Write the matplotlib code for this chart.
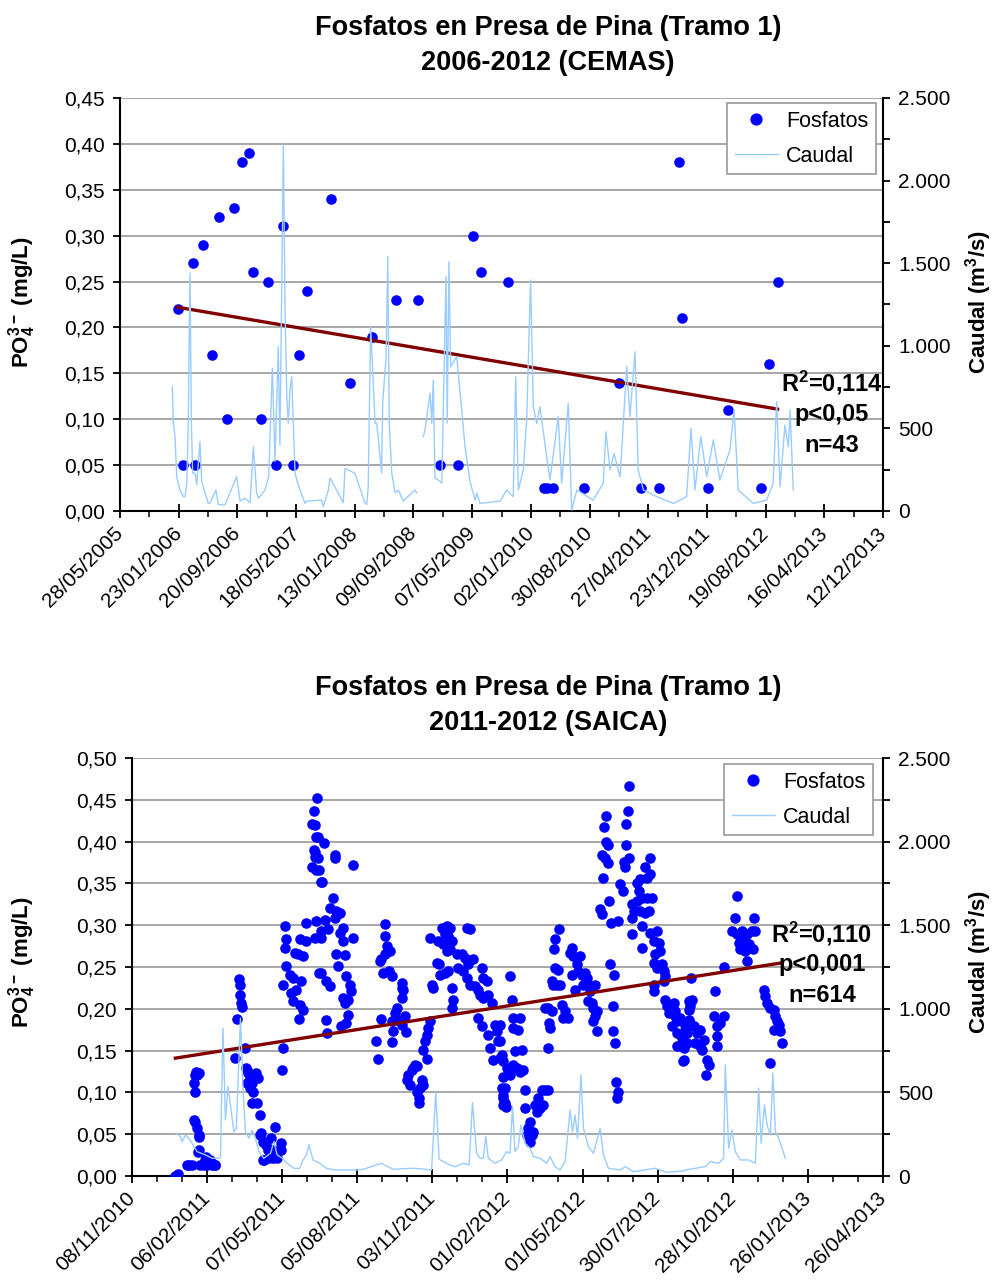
import numpy as np
import pandas as pd
import matplotlib
matplotlib.use("Agg")
import matplotlib.pyplot as plt
import matplotlib.dates as mdates
import matplotlib.transforms as mtransforms
from matplotlib.ticker import FuncFormatter, FixedLocator
from matplotlib.lines import Line2D

plt.rcParams['font.family'] = ['Liberation Sans', 'DejaVu Sans']
plt.rcParams['mathtext.fontset'] = 'custom'
plt.rcParams['mathtext.rm'] = 'Liberation Sans'
plt.rcParams['mathtext.bf'] = 'Liberation Sans:bold'
plt.rcParams['mathtext.default'] = 'bf'

# ---------------- CEMAS 2006-2012 (muestras puntuales) ----------------
fechas_cemas = ["2006-01-19", "2006-02-08", "2006-03-22", "2006-03-29", "2006-05-04",
                "2006-06-07", "2006-07-06", "2006-08-09", "2006-09-06", "2006-10-10",
                "2006-11-08", "2006-11-22", "2006-12-27", "2007-01-23", "2007-02-25",
                "2007-03-27", "2007-05-07", "2007-05-29", "2007-07-03", "2007-10-08",
                "2007-12-24", "2008-03-23", "2008-06-30", "2008-09-28", "2008-12-26",
                "2009-03-11", "2009-05-09", "2009-06-12", "2009-10-02", "2010-02-25",
                "2010-03-08", "2010-04-01", "2010-08-06", "2010-12-30", "2011-03-30",
                "2011-06-10", "2011-08-31", "2011-09-14", "2011-12-28", "2012-03-19",
                "2012-07-31", "2012-09-03", "2012-10-07"]
po4_cemas = [0.22, 0.05, 0.27, 0.05, 0.29,
             0.17, 0.32, 0.10, 0.33, 0.38,
             0.39, 0.26, 0.10, 0.25, 0.05,
             0.31, 0.05, 0.17, 0.24, 0.34,
             0.14, 0.19, 0.23, 0.23, 0.05,
             0.05, 0.30, 0.26, 0.25, 0.025,
             0.025, 0.025, 0.025, 0.14, 0.025,
             0.025, 0.38, 0.21, 0.025, 0.11,
             0.025, 0.16, 0.25]
# recta de tendencia (Excel) en la primera y la ultima fecha
tendencia_cemas = [0.222, 0.111]

# caudal diario (m3/s), dias desde el origen del eje
origen_cemas = "2005-05-28"
dia_caudal_cemas = [214, 218, 225, 232, 245, 259, 266, 273, 279, 286,
                    292, 297, 307, 314, 327, 334, 348, 361, 368, 392,
                    402, 422, 429, 477, 491, 511, 532, 545, 559, 566,
                    593, 608, 623, 634, 647, 654, 668, 675, 682, 688,
                    695, 702, 716, 723, 736, 757, 763, 825, 831, 852,
                    859, 913, 920, 961, 1002, 1009, 1015, 1025, 1043, 1050,
                    1070, 1074, 1088, 1095, 1101, 1111, 1125, 1138, 1158, 1206,
                    1213, 1226, 1240, 1247, 1268, 1275, 1281, 1288, 1309, 1316,
                    1333, 1338, 1345, 1352, 1377, 1411, 1431, 1452, 1459, 1472,
                    1499, 1554, 1581, 1608, 1618, 1629, 1649, 1663, 1679, 1690,
                    1704, 1717, 1745, 1758, 1792, 1806, 1833, 1847, 1868, 1935,
                    1976, 1987, 2004, 2020, 2045, 2072, 2085, 2106, 2119, 2140,
                    2195, 2263, 2317, 2335, 2351, 2375, 2399, 2426, 2453, 2494,
                    2511, 2528, 2590, 2644, 2671, 2685, 2699, 2719, 2733, 2740,
                    2753]
caudal_cemas = [752, 532, 450, 208, 127, 87, 87, 168, 510, 1440,
                532, 230, 228, 160, 420, 180, 109, 46, 48, 127,
                40, 36, 36, 208, 60, 77, 50, 389, 110, 77,
                127, 208, 864, 300, 995, 400, 2226, 1217, 692, 532,
                732, 813, 230, 188, 127, 46, 60, 66, 26, 127,
                200, 50, 258, 228, 46, 40, 147, 1116, 530, 532,
                230, 653, 934, 1540, 532, 230, 110, 127, 60, 127,
                110, np.nan, 450, 490, 714, 532, 793, 200, 180, 168,
                1418, 532, 1509, 873, 934, 389, 180, 66, 110, 46,
                50, 60, 127, 87, 813, 127, 248, 551, 1398, 631,
                530, 631, 329, 188, 571, 168, 652, 6, 127, 66,
                168, 480, 248, 349, 208, 873, 571, 964, 248, 127,
                87, 46, 87, 500, 127, 450, 208, 430, 188, 369,
                611, 127, 46, 66, 168, 662, 147, 520, 389, 611,
                127]

# ---------------- SAICA 2011-2012 (sonda en continuo) ----------------
origen_saica = "2010-11-08"
dia_saica = [52, 55, 66, 68, 72, 74, 75, 76, 77, 78,
             80, 74, 76, 78, 80, 80, 79, 80, 89, 82,
             86, 88, 90, 94, 96, 99, 100, 124, 126, 128,
             130, 130, 131, 132, 135, 137, 139, 143, 149, 151,
             138, 142, 148, 138, 142, 145, 144, 144, 150, 153,
             153, 157, 161, 165, 155, 159, 163, 169, 157, 171,
             179, 173, 169, 174, 178, 158, 164, 167, 180, 181,
             183, 185, 183, 208, 201, 209, 195, 199, 205, 185,
             189, 193, 203, 181, 191, 197, 193, 201, 205, 200,
             221, 219, 224, 222, 218, 216, 221, 218, 219, 216,
             221, 226, 219, 223, 230, 219, 223, 224, 228, 243,
             243, 265, 241, 237, 245, 249, 243, 231, 227, 235,
             226, 253, 249, 253, 265, 245, 255, 247, 226, 233,
             237, 257, 261, 263, 259, 255, 253, 259, 257, 250,
             233, 234, 303, 303, 305, 309, 303, 299, 297, 301,
             308, 312, 324, 325, 323, 324, 318, 315, 317, 327,
             312, 323, 328, 313, 298, 293, 312, 295, 357, 355,
             353, 351, 349, 353, 339, 335, 331, 329, 333, 347,
             349, 345, 341, 344, 344, 337, 341, 357, 359, 361,
             365, 368, 369, 371, 377, 381, 375, 379, 367, 373,
             383, 377, 381, 375, 379, 383, 385, 383, 389, 395,
             399, 403, 409, 419, 391, 397, 401, 405, 401, 405,
             411, 415, 421, 425, 417, 421, 427, 431, 415, 419,
             427, 429, 435, 437, 439, 433, 441, 445, 443, 445,
             445, 441, 441, 443, 445, 449, 453, 457, 461, 465,
             469, 447, 445, 447, 448, 459, 467, 457, 465, 457,
             463, 453, 455, 471, 471, 477, 475, 473, 479, 481,
             477, 483, 487, 491, 495, 499, 493, 489, 485, 498,
             500, 501, 499, 495, 503, 505, 503, 509, 513, 507,
             511, 506, 507, 512, 515, 519, 523, 517, 527, 525,
             529, 537, 527, 533, 535, 539, 543, 545, 531, 541,
             547, 555, 549, 547, 551, 553, 557, 555, 553, 557,
             573, 578, 576, 576, 579, 580, 582, 581, 561, 563,
             566, 568, 568, 570, 563, 567, 570, 564, 572, 574,
             583, 585, 588, 591, 590, 596, 592, 592, 594, 596,
             599, 599, 605, 601, 605, 609, 615, 617, 621, 621,
             607, 611, 617, 623, 599, 611, 609, 615, 619, 621,
             611, 629, 625, 631, 633, 627, 625, 629, 635, 637,
             639, 637, 625, 626, 639, 641, 645, 649, 651, 643,
             647, 653, 657, 663, 665, 653, 659, 661, 661, 667,
             667, 667, 651, 655, 653, 659, 663, 667, 673, 677,
             681, 685, 657, 665, 675, 681, 683, 660, 671, 669,
             670, 689, 691, 688, 697, 701, 705, 709, 701, 701,
             699, 709, 725, 723, 746, 719, 725, 731, 737, 743,
             747, 727, 733, 739, 744, 729, 735, 737, 757, 759,
             761, 765, 769, 771, 773, 775, 777, 769, 779, 764]
po4_saica = [0.000, 0.002, 0.013, 0.013, 0.013, 0.111, 0.121, 0.100, 0.125, 0.121,
             0.123, 0.067, 0.065, 0.057, 0.049, 0.047, 0.029, 0.031, 0.023, 0.013,
             0.013, 0.019, 0.013, 0.019, 0.013, 0.013, 0.013, 0.141, 0.188, 0.236,
             0.228, 0.216, 0.207, 0.202, 0.153, 0.129, 0.123, 0.119, 0.123, 0.117,
             0.127, 0.119, 0.119, 0.111, 0.105, 0.101, 0.111, 0.087, 0.087, 0.073,
             0.049, 0.041, 0.037, 0.031, 0.051, 0.041, 0.031, 0.031, 0.019, 0.059,
             0.039, 0.027, 0.021, 0.021, 0.031, 0.019, 0.021, 0.045, 0.127, 0.153,
             0.299, 0.283, 0.273, 0.303, 0.283, 0.281, 0.267, 0.265, 0.263, 0.251,
             0.241, 0.237, 0.233, 0.229, 0.219, 0.223, 0.209, 0.205, 0.199, 0.188,
             0.305, 0.285, 0.243, 0.452, 0.437, 0.421, 0.406, 0.390, 0.382, 0.370,
             0.366, 0.352, 0.420, 0.406, 0.398, 0.388, 0.380, 0.366, 0.352, 0.384,
             0.380, 0.372, 0.332, 0.321, 0.317, 0.315, 0.309, 0.306, 0.293, 0.295,
             0.285, 0.297, 0.291, 0.281, 0.285, 0.265, 0.264, 0.251, 0.243, 0.233,
             0.227, 0.239, 0.229, 0.221, 0.211, 0.207, 0.213, 0.193, 0.183, 0.179,
             0.187, 0.171, 0.301, 0.287, 0.275, 0.269, 0.265, 0.259, 0.257, 0.243,
             0.245, 0.239, 0.231, 0.223, 0.213, 0.225, 0.201, 0.195, 0.187, 0.191,
             0.185, 0.181, 0.172, 0.173, 0.188, 0.162, 0.160, 0.140, 0.185, 0.177,
             0.169, 0.161, 0.151, 0.140, 0.133, 0.127, 0.121, 0.115, 0.109, 0.115,
             0.109, 0.105, 0.101, 0.093, 0.087, 0.129, 0.131, 0.285, 0.229, 0.225,
             0.255, 0.253, 0.241, 0.297, 0.299, 0.297, 0.289, 0.287, 0.281, 0.277,
             0.281, 0.269, 0.271, 0.243, 0.245, 0.225, 0.211, 0.201, 0.265, 0.265,
             0.261, 0.253, 0.259, 0.249, 0.249, 0.245, 0.237, 0.229, 0.297, 0.295,
             0.227, 0.223, 0.237, 0.233, 0.217, 0.213, 0.217, 0.207, 0.189, 0.179,
             0.169, 0.153, 0.181, 0.173, 0.161, 0.139, 0.141, 0.119, 0.105, 0.093,
             0.085, 0.181, 0.161, 0.145, 0.137, 0.129, 0.121, 0.133, 0.129, 0.125,
             0.127, 0.105, 0.097, 0.087, 0.083, 0.149, 0.151, 0.177, 0.189, 0.189,
             0.175, 0.239, 0.211, 0.103, 0.081, 0.065, 0.057, 0.049, 0.049, 0.053,
             0.041, 0.085, 0.093, 0.103, 0.103, 0.103, 0.085, 0.081, 0.077, 0.153,
             0.183, 0.177, 0.201, 0.201, 0.197, 0.229, 0.233, 0.229, 0.229, 0.249,
             0.247, 0.271, 0.283, 0.295, 0.205, 0.197, 0.189, 0.189, 0.273, 0.267,
             0.263, 0.263, 0.241, 0.253, 0.245, 0.241, 0.243, 0.237, 0.223, 0.229,
             0.229, 0.229, 0.221, 0.209, 0.207, 0.201, 0.197, 0.191, 0.185, 0.173,
             0.253, 0.241, 0.203, 0.173, 0.159, 0.113, 0.101, 0.093, 0.319, 0.313,
             0.417, 0.431, 0.400, 0.396, 0.384, 0.380, 0.374, 0.356, 0.329, 0.303,
             0.305, 0.349, 0.341, 0.370, 0.376, 0.380, 0.396, 0.421, 0.437, 0.466,
             0.325, 0.309, 0.329, 0.317, 0.351, 0.355, 0.370, 0.357, 0.380, 0.361,
             0.341, 0.333, 0.333, 0.332, 0.289, 0.299, 0.317, 0.315, 0.317, 0.291,
             0.273, 0.293, 0.281, 0.279, 0.269, 0.265, 0.255, 0.249, 0.253, 0.245,
             0.239, 0.233, 0.229, 0.221, 0.211, 0.203, 0.199, 0.207, 0.197, 0.195,
             0.179, 0.185, 0.189, 0.181, 0.171, 0.155, 0.165, 0.153, 0.139, 0.209,
             0.199, 0.185, 0.191, 0.187, 0.171, 0.167, 0.175, 0.187, 0.179, 0.171,
             0.175, 0.163, 0.155, 0.159, 0.159, 0.155, 0.151, 0.137, 0.211, 0.203,
             0.237, 0.139, 0.133, 0.121, 0.191, 0.179, 0.183, 0.191, 0.167, 0.155,
             0.221, 0.250, 0.335, 0.309, 0.309, 0.293, 0.289, 0.293, 0.289, 0.293,
             0.293, 0.279, 0.281, 0.277, 0.271, 0.271, 0.269, 0.257, 0.222, 0.215,
             0.207, 0.201, 0.199, 0.191, 0.185, 0.181, 0.173, 0.175, 0.159, 0.135]
tendencia_saica = [0.141, 0.255]

dia_caudal_saica = [53, 56, 58, 60, 64, 68, 72, 78, 88, 96,
                    105, 106, 109, 112, 115, 118, 122, 125, 130, 133,
                    136, 140, 144, 148, 152, 158, 166, 170, 174, 180,
                    186, 194, 201, 205, 209, 212, 217, 225, 233, 243,
                    253, 269, 277, 299, 313, 333, 339, 359, 364, 368,
                    381, 387, 397, 404, 408, 413, 417, 421, 424, 427,
                    435, 443, 449, 453, 456, 459, 463, 466, 471, 477,
                    481, 489, 497, 501, 507, 513, 519, 525, 528, 531,
                    534, 538, 541, 547, 553, 561, 565, 571, 585, 591,
                    601, 627, 641, 661, 663, 687, 693, 703, 709, 711,
                    715, 719, 723, 729, 739, 747, 751, 754, 758, 761,
                    765, 768, 771, 775, 783]
caudal_saica = [255, 245, 235, 206, 245, 226, 196, 146, 126, 106,
                106, 116, 884, 335, 535, 425, 265, 285, 944, 525,
                265, 226, 275, 226, 146, 106, 136, 206, 126, 106,
                76, 46, 46, 96, 126, 186, 96, 76, 46, 36,
                36, 36, 40, 76, 40, 46, 46, 36, 500, 100,
                66, 56, 76, 66, 440, 136, 106, 106, 235, 106,
                76, 96, 146, 136, 415, 146, 176, 305, 196, 166,
                116, 106, 76, 116, 56, 36, 86, 395, 265, 365,
                226, 605, 285, 176, 136, 285, 126, 46, 36, 56,
                26, 46, 22, 30, 36, 56, 86, 76, 106, 665,
                166, 275, 146, 96, 96, 76, 525, 196, 425, 305,
                245, 615, 265, 226, 106]

stats_cemas = ["R$^2$=0,114", "p<0,05", "n=43"]
stats_saica = ["R$^2$=0,110", "p<0,001", "n=614"]

W, H = 992, 1280
AZUL = "#0000ff"
CELESTE = "#99ccff"
GRANATE = "#800000"
GRIS = "#a0a0a0"


def fx(x):
    return x / W


def fy(y):
    return 1 - y / H


def dias_a_num(origen, dias):
    return mdates.date2num(pd.Timestamp(origen)) + np.asarray(dias, dtype=float)


def draw_panel(fig, box, x_po4, po4, tendencia, x_q, q, ylim, ystep, xticks, xminor,
               titulo, stats, stats_x, stats_y, leg_xy, lab_y):
    left, top, right, bottom = box
    ax = fig.add_axes([fx(left), fy(bottom), fx(right - left), (bottom - top) / H])
    ax2 = ax.twinx()

    # fosfatos + recta de tendencia
    ax.scatter(x_po4, po4, s=58, color=AZUL, linewidths=0, zorder=3)
    ax.plot([x_po4.min(), x_po4.max()], tendencia, color=GRANATE, lw=2.4, zorder=4)

    # caudal en el eje secundario
    ax2.plot(x_q, q, color=CELESTE, lw=1.0)

    ax.set_xlim(xticks[0], xticks[-1])
    ax.set_ylim(0, ylim)
    ax.set_yticks(np.arange(0, ylim + 1e-9, ystep))
    ax.yaxis.set_major_formatter(FuncFormatter(lambda v, p: f"{v:.2f}".replace(".", ",")))
    ax.yaxis.grid(True, color=GRIS, lw=1.3)
    ax.set_axisbelow(True)

    ax2.set_ylim(0, 2500)
    ax2.set_yticks(np.arange(0, 2501, 500))
    ax2.yaxis.set_minor_locator(FixedLocator(np.arange(0, 2501, 250)))
    ax2.yaxis.set_major_formatter(FuncFormatter(lambda v, p: f"{v:,.0f}".replace(",", ".")))

    ax.set_xticks(xticks)
    ax.set_xticklabels([mdates.num2date(t).strftime("%d/%m/%Y") for t in xticks],
                       rotation=45, ha="right", va="center", rotation_mode="anchor")
    ax.xaxis.set_minor_locator(FixedLocator(xminor))
    # etiquetas de fecha un poco a la izquierda de su marca
    desplaza = mtransforms.ScaledTranslation(-6 / 100, 0, fig.dpi_scale_trans)
    for lab in ax.get_xticklabels():
        lab.set_transform(lab.get_transform() + desplaza)

    for a in (ax, ax2):
        a.spines["top"].set_visible(False)
        for s in a.spines.values():
            s.set_linewidth(1.5)
    ax.spines["right"].set_visible(False)
    ax2.spines["left"].set_visible(False)
    ax2.spines["bottom"].set_visible(False)

    ax.tick_params(axis="y", direction="out", length=5, width=1.3, labelsize=15, pad=6)
    ax.tick_params(axis="x", which="major", direction="inout", length=10, width=1.3,
                   labelsize=15, pad=9)
    ax.tick_params(axis="x", which="minor", direction="out", length=4, width=1.1)
    ax2.tick_params(axis="y", which="both", direction="out", length=5, width=1.3,
                    labelsize=15, pad=6)

    handles = [Line2D([], [], marker="o", ls="none", color=AZUL, markersize=7.8),
               Line2D([], [], color=CELESTE, lw=1.0)]
    leg = ax2.legend(handles, ["Fosfatos", "Caudal"], loc="upper right",
                     bbox_to_anchor=(fx(leg_xy[0]), fy(leg_xy[1])),
                     bbox_transform=fig.transFigure, borderaxespad=0, fontsize=15.5,
                     frameon=True, fancybox=False, edgecolor=GRIS, framealpha=1,
                     handlelength=2.0, handletextpad=0.4, borderpad=0.35,
                     labelspacing=0.65)
    leg.get_frame().set_linewidth(1.3)

    for txt, y in zip(stats, stats_y):
        fig.text(fx(stats_x), fy(y), txt, ha="center", va="center",
                 fontsize=17, weight="bold")

    fig.text(fx(548), fy(top - 70), titulo[0], ha="center", va="center",
             fontsize=19.5, weight="bold")
    fig.text(fx(548), fy(top - 35), titulo[1], ha="center", va="center",
             fontsize=19.5, weight="bold")

    fig.text(fx(22), fy(lab_y), "PO$_4^{3-}$ (mg/L)", rotation=90,
             ha="center", va="center", fontsize=16, weight="bold")
    fig.text(fx(979), fy(lab_y), "Caudal (m$^3$/s)", rotation=90,
             ha="center", va="center", fontsize=16, weight="bold")
    return ax, ax2


fig = plt.figure(figsize=(W / 100, H / 100), dpi=100)

# panel superior: CEMAS
x_cemas = mdates.date2num(pd.to_datetime(fechas_cemas))
xq_cemas = dias_a_num(origen_cemas, dia_caudal_cemas)
ticks_cemas = mdates.date2num(pd.date_range("2005-05-28", periods=14, freq="240D"))
minor_cemas = mdates.date2num(pd.date_range("2005-05-28", periods=27, freq="120D"))
draw_panel(fig, (120, 98, 883, 511), x_cemas, np.array(po4_cemas), tendencia_cemas,
           xq_cemas, np.array(caudal_cemas), 0.45, 0.05, ticks_cemas, minor_cemas,
           ("Fosfatos en Presa de Pina (Tramo 1)", "2006-2012 (CEMAS)"),
           stats_cemas, 832, (383, 415, 445), (876, 103), 302)

# panel inferior: SAICA
x_saica = dias_a_num(origen_saica, dia_saica)
xq_saica = dias_a_num(origen_saica, dia_caudal_saica)
ticks_saica = mdates.date2num(pd.date_range("2010-11-08", periods=11, freq="90D"))
minor_saica = mdates.date2num(pd.date_range("2010-11-08", periods=31, freq="30D"))
draw_panel(fig, (132, 758, 883, 1176), x_saica, np.array(po4_saica), tendencia_saica,
           xq_saica, np.array(caudal_saica), 0.50, 0.05, ticks_saica, minor_saica,
           ("Fosfatos en Presa de Pina (Tramo 1)", "2011-2012 (SAICA)"),
           stats_saica, 822, (934, 965, 995), (873, 764), 962)

fig.savefig("out.png", dpi=100)
